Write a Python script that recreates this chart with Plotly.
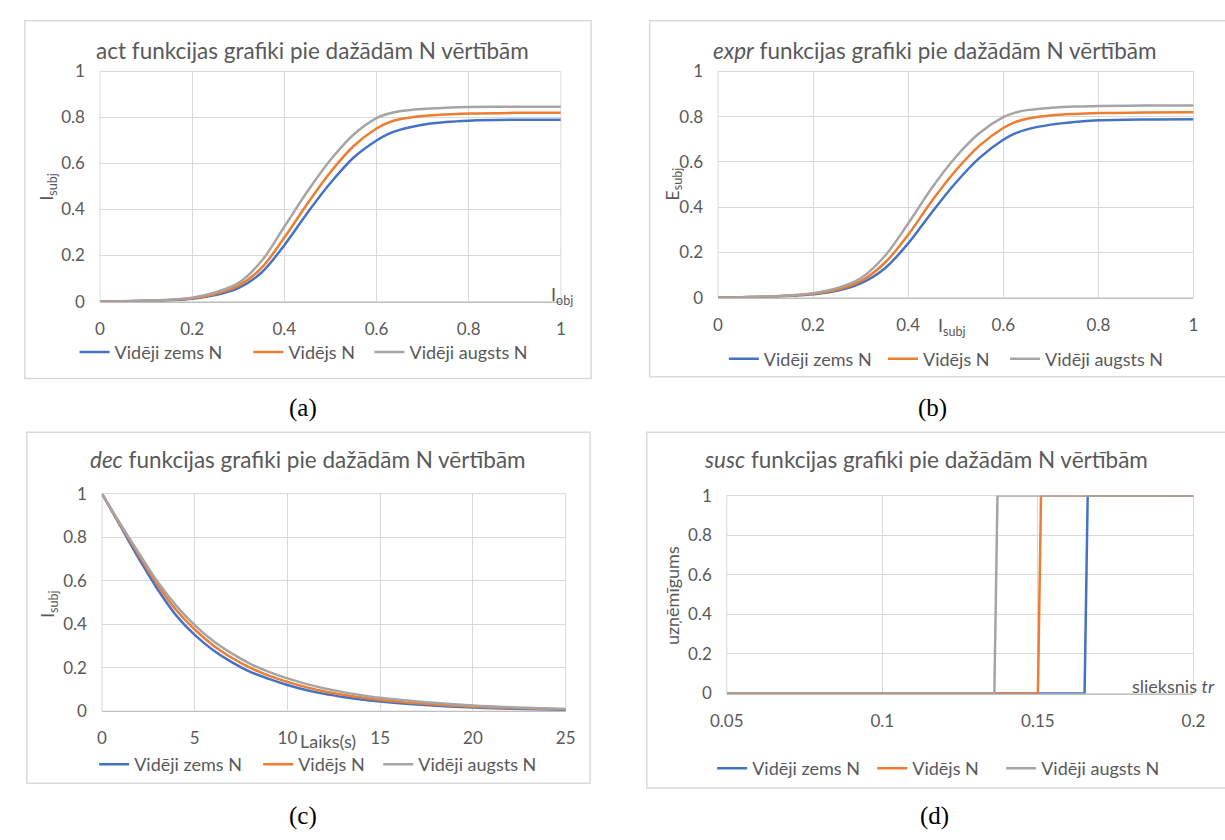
import plotly.graph_objects as go

W, H = 1225, 840

# ---------------- data ----------------
series_names = ["Vidēji zems N", "Vidējs N", "Vidēji augsts N"]
series_colors = ["#4472C4", "#ED7D31", "#A5A5A5"]

# (a) act function
act_x = [0, 0.05, 0.1, 0.15, 0.2, 0.25, 0.3, 0.35, 0.4, 0.45, 0.5, 0.55, 0.6, 0.625, 0.65, 0.7, 0.75, 0.8, 0.9, 1.0]
act_low = [0, 0.001, 0.003, 0.006, 0.012, 0.028, 0.058, 0.125, 0.245, 0.385, 0.515, 0.625, 0.70, 0.728, 0.746, 0.768, 0.78, 0.786, 0.79, 0.79]
act_mid = [0, 0.001, 0.003, 0.007, 0.014, 0.033, 0.068, 0.145, 0.278, 0.425, 0.562, 0.675, 0.752, 0.777, 0.792, 0.806, 0.813, 0.817, 0.82, 0.82]
act_high = [0, 0.001, 0.004, 0.008, 0.017, 0.04, 0.08, 0.175, 0.325, 0.478, 0.615, 0.725, 0.797, 0.816, 0.827, 0.837, 0.842, 0.845, 0.847, 0.847]

# (b) expr function
expr_x = [0, 0.05, 0.1, 0.15, 0.2, 0.25, 0.3, 0.35, 0.4, 0.45, 0.5, 0.55, 0.6, 0.625, 0.65, 0.7, 0.75, 0.8, 0.9, 1.0]
expr_low = [0, 0.002, 0.004, 0.008, 0.015, 0.03, 0.063, 0.128, 0.24, 0.378, 0.508, 0.618, 0.698, 0.726, 0.744, 0.765, 0.777, 0.784, 0.788, 0.789]
expr_mid = [0, 0.002, 0.004, 0.009, 0.017, 0.035, 0.073, 0.152, 0.278, 0.428, 0.562, 0.672, 0.75, 0.776, 0.791, 0.805, 0.812, 0.816, 0.819, 0.82]
expr_high = [0, 0.002, 0.005, 0.01, 0.02, 0.042, 0.086, 0.182, 0.328, 0.486, 0.622, 0.728, 0.798, 0.818, 0.829, 0.839, 0.845, 0.847, 0.849, 0.85]

# (c) dec function
dec_t = [0, 1, 2, 3, 4, 5, 6, 7, 8, 9, 10, 11, 12, 13, 14, 15, 17, 20, 22, 25]
dec_low = [1.0, 0.85, 0.7, 0.56, 0.44, 0.35, 0.28, 0.225, 0.18, 0.148, 0.12, 0.097, 0.079, 0.065, 0.053, 0.044, 0.03, 0.016, 0.011, 0.006]
dec_mid = [1.0, 0.855, 0.715, 0.58, 0.465, 0.375, 0.302, 0.245, 0.198, 0.163, 0.134, 0.11, 0.09, 0.075, 0.062, 0.051, 0.036, 0.02, 0.014, 0.008]
dec_high = [1.0, 0.86, 0.725, 0.595, 0.485, 0.395, 0.322, 0.265, 0.217, 0.18, 0.15, 0.125, 0.104, 0.087, 0.073, 0.061, 0.044, 0.026, 0.018, 0.01]

# (d) susc function (step at the threshold)
susc_tr = [0.05, 0.136, 0.137, 0.150, 0.151, 0.165, 0.166, 0.2]
susc_low = [0, 0, 0, 0, 0, 0, 1, 1]
susc_mid = [0, 0, 0, 0, 1, 1, 1, 1]
susc_high = [0, 0, 1, 1, 1, 1, 1, 1]

FONT = "Lato, 'Noto Sans', sans-serif"
GRAY_TXT = "#595959"
GRID = "#d9d9d9"
TICK_SIZE = 17
LEG_SIZE = 18
TITLE_SIZE = 22.5
AXT_SIZE = 18


def fx(px):
    return px / W


def fy(py):
    return 1 - py / H


fig = go.Figure()

panels = [
    # axis suffix, x data, y series, plot box (left, right, top, bottom) in px,
    # legend entry line starts (px) and legend row (px)
    ("", act_x, [act_low, act_mid, act_high], (85, 557, 62, 298), (64, 242, 366), 350),
    ("2", expr_x, [expr_low, expr_mid, expr_high], (718, 1205, 62, 294), (729, 892, 1017), 357),
    ("3", dec_t, [dec_low, dec_mid, dec_high], (87, 562, 495, 718), (84, 252, 375), 773),
    ("4", susc_tr, [susc_low, susc_mid, susc_high], (727, 1205, 497, 700), (717, 881, 1013), 777),
]

x_ranges = [[0, 1], [0, 1], [0, 25], [0.05, 0.2]]
x_dticks = [0.2, 0.2, 5, 0.05]

leg_idx = 0
for (sfx, xs, ys, box, leg_x, leg_y), xr, xd in zip(panels, x_ranges, x_dticks):
    step = sfx == "4"
    for name, color, yv, lx in zip(series_names, series_colors, ys, leg_x):
        leg_idx += 1
        leg = "legend" if leg_idx == 1 else f"legend{leg_idx}"
        fig.add_trace(go.Scatter(
            x=xs, y=yv, mode="lines", name=name,
            line=dict(color=color, width=2.5, shape="linear" if step else "spline",
                      smoothing=None if step else 1.0),
            xaxis="x" + sfx, yaxis="y" + sfx, legend=leg,
        ))
        # one legend per entry, placed along the row under the chart
        fig.layout[leg] = dict(
            orientation="h", x=fx(lx - 5), y=fy(leg_y), xanchor="left", yanchor="middle",
            xref="paper", yref="paper", bgcolor="rgba(0,0,0,0)", itemwidth=30,
            font=dict(family=FONT, size=LEG_SIZE, color=GRAY_TXT),
        )
    l, r, t, b = box
    fig.layout["xaxis" + sfx] = dict(
        domain=[fx(l), fx(r)], range=xr, dtick=xd, anchor="y" + sfx,
        showgrid=True, gridcolor=GRID, gridwidth=1, zeroline=False,
        showline=True, linecolor="#bfbfbf", linewidth=1,
        ticks="", ticklabelstandoff=12,
        tickfont=dict(family=FONT, size=TICK_SIZE, color=GRAY_TXT),
    )
    fig.layout["yaxis" + sfx] = dict(
        domain=[fy(b), fy(t)], range=[0, 1], dtick=0.2, anchor="x" + sfx,
        showgrid=True, gridcolor=GRID, gridwidth=1, zeroline=False,
        showline=False, ticks="", ticklabelstandoff=14,
        tickfont=dict(family=FONT, size=TICK_SIZE, color=GRAY_TXT),
    )
    # plot-area border
    fig.add_shape(type="rect", xref="x" + sfx + " domain", yref="y" + sfx + " domain",
                  x0=0, x1=1, y0=0, y1=1, line=dict(color=GRID, width=1), layer="below")

# chart frames
frames = [(8, 588, 10, 377), (648, 1240, 10, 375), (10, 587, 432, 792), (645, 1240, 432, 797)]
for l, r, t, b in frames:
    fig.add_shape(type="rect", xref="paper", yref="paper",
                  x0=fx(l), x1=fx(r), y0=fy(b), y1=fy(t),
                  line=dict(color=GRID, width=1.5), layer="below")

ann = []


def text(px, py, s, size=16, color=GRAY_TXT, angle=0, xanchor="center", family=FONT):
    ann.append(dict(x=fx(px), y=fy(py), xref="paper", yref="paper", text=s, showarrow=False,
                    xanchor=xanchor, yanchor="middle", textangle=angle,
                    font=dict(family=family, size=size, color=color)))


# titles
text(303, 40, "act funkcijas grafiki pie dažādām N vērtībām", size=TITLE_SIZE)
text(940, 40, "<i>expr</i> funkcijas grafiki pie dažādām N vērtībām", size=TITLE_SIZE)
text(298, 460, "<i>dec</i> funkcijas grafiki pie dažādām N vērtībām", size=TITLE_SIZE)
text(931, 460, "<i>susc</i> funkcijas grafiki pie dažādām N vērtībām", size=TITLE_SIZE)

# axis titles
text(31, 180, "I<sub>subj</sub>", size=AXT_SIZE, angle=-90)
text(545, 292, "I<sub>obj</sub>", size=AXT_SIZE, xanchor="left")
text(672, 178, "E<sub>subj</sub>", size=AXT_SIZE, angle=-90)
text(958, 324, "I<sub>subj</sub>", size=AXT_SIZE)
text(33, 608, "I<sub>subj</sub>", size=AXT_SIZE, angle=-90)
text(288, 749, "Laiks(s)", size=AXT_SIZE, xanchor="left")
text(671, 600, "uzņēmīgums", size=AXT_SIZE, angle=-90)
text(1140, 692, "slieksnis <i>tr</i>", size=AXT_SIZE, xanchor="left")

# captions
for cx, cy, s in [(293, 407, "(a)"), (938, 407, "(b)"), (293, 826, "(c)"), (940, 826, "(d)")]:
    text(cx, cy, s, size=25, color="#000000", family="'Liberation Serif', 'Times New Roman', serif")

fig.update_layout(
    width=W, height=H, margin=dict(l=0, r=0, t=0, b=0),
    paper_bgcolor="white", plot_bgcolor="white",
    annotations=ann, showlegend=True,
)

fig.write_html("out.html")
